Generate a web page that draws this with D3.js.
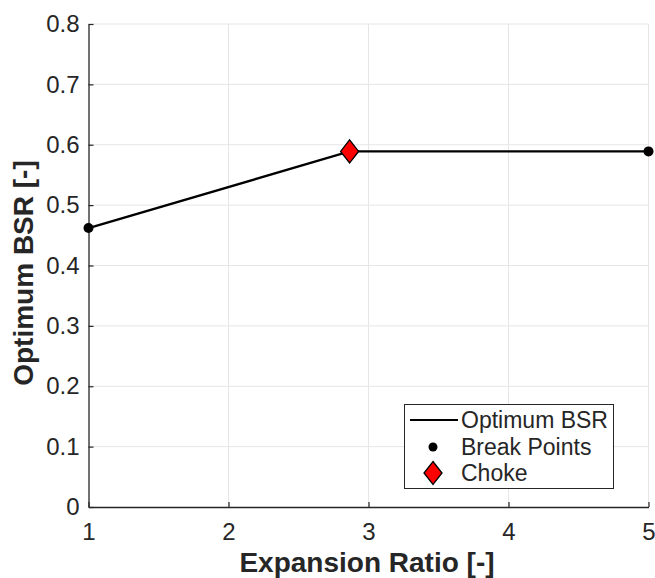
<!DOCTYPE html>
<html><head><meta charset="utf-8">
<script src="https://cdn.jsdelivr.net/npm/d3@7"></script>
<style>body{margin:0;background:#fff}svg{display:block}text{font-family:"Liberation Sans",Arial,sans-serif}</style>
</head><body>
<script>
const lineX = [1, 2.865, 5];
const lineY = [0.462, 0.589, 0.589];
const breakX = [1, 5];
const breakY = [0.462, 0.589];
const chokeX = [2.865];
const chokeY = [0.589];
const xTicks = [1, 2, 3, 4, 5];
const yTicks = [0, 0.1, 0.2, 0.3, 0.4, 0.5, 0.6, 0.7, 0.8];
const legendLabels = ["Optimum BSR", "Break Points", "Choke"];

const W = 655, H = 578;
const m = {left: 88.5, right: 6.5, top: 24, bottom: 71};
const svg = d3.select("body").append("svg").attr("width", W).attr("height", H);
const x = d3.scaleLinear().domain([1, 5]).range([m.left, W - m.right]);
const y = d3.scaleLinear().domain([0, 0.8]).range([H - m.bottom, m.top]);
const ink = "#262626";

// grid
svg.append("g").selectAll("line").data(xTicks.slice(1)).join("line")
  .attr("x1", d => x(d)).attr("x2", d => x(d)).attr("y1", y(0)).attr("y2", y(0.8))
  .attr("stroke", "#e6e6e6").attr("stroke-width", 1);
svg.append("g").selectAll("line").data(yTicks.slice(1)).join("line")
  .attr("x1", x(1)).attr("x2", x(5)).attr("y1", d => y(d)).attr("y2", d => y(d))
  .attr("stroke", "#e6e6e6").attr("stroke-width", 1);

// axes
const xa = svg.append("g").attr("transform", `translate(0,${y(0)})`)
  .call(d3.axisBottom(x).tickValues(xTicks).tickSize(-5).tickPadding(16).tickSizeOuter(0).tickFormat(d3.format("d")));
const ya = svg.append("g").attr("transform", `translate(${x(1)},0)`)
  .call(d3.axisLeft(y).tickValues(yTicks).tickSize(-5).tickPadding(9).tickSizeOuter(0).tickFormat(d => d === 0 ? "0" : d3.format(".1f")(d)));
[xa, ya].forEach(a => {
  a.select(".domain").attr("stroke", ink).attr("stroke-width", 1.3);
  a.selectAll(".tick line").attr("stroke", ink).attr("stroke-width", 1.2);
  a.selectAll("text").attr("fill", ink).style("font-size", "24px");
});

// titles
svg.append("text").attr("x", 367).attr("y", 572).attr("text-anchor", "middle")
  .attr("fill", ink).style("font-size", "28px").style("font-weight", "bold").text("Expansion Ratio [-]");
svg.append("text").attr("transform", `translate(33,273) rotate(-90)`).attr("text-anchor", "middle")
  .attr("fill", ink).style("font-size", "28px").style("font-weight", "bold").text("Optimum BSR [-]");

// line
const pts = lineX.map((d, i) => [d, lineY[i]]);
svg.append("path").datum(pts).attr("fill", "none").attr("stroke", "#000").attr("stroke-width", 2.4)
  .attr("d", d3.line().x(d => x(d[0])).y(d => y(d[1])));

// break points
svg.append("g").selectAll("circle").data(breakX.map((d, i) => [d, breakY[i]])).join("circle")
  .attr("cx", d => x(d[0])).attr("cy", d => y(d[1])).attr("r", 5).attr("fill", "#000");

// choke
const diamond = (cx, cy, w, h) => `M${cx},${cy - h}L${cx + w},${cy}L${cx},${cy + h}L${cx - w},${cy}Z`;
svg.append("g").selectAll("path").data(chokeX.map((d, i) => [d, chokeY[i]])).join("path")
  .attr("d", d => diamond(x(d[0]), y(d[1]), 9, 11.5)).attr("fill", "#ff0000").attr("stroke", "#000").attr("stroke-width", 1.3);

// legend
const lg = svg.append("g");
lg.append("rect").attr("x", 404.5).attr("y", 404.5).attr("width", 209).attr("height", 84)
  .attr("fill", "#fff").attr("stroke", ink).attr("stroke-width", 1);
const rowY = [420, 447, 473];
lg.append("line").attr("x1", 410).attr("x2", 458).attr("y1", rowY[0]).attr("y2", rowY[0]).attr("stroke", "#000").attr("stroke-width", 2);
lg.append("circle").attr("cx", 433).attr("cy", rowY[1]).attr("r", 4.5).attr("fill", "#000");
lg.append("path").attr("d", diamond(433, rowY[2], 9, 11.5)).attr("fill", "#ff0000").attr("stroke", "#000").attr("stroke-width", 1.3);
lg.selectAll("text.l").data(legendLabels).join("text").attr("class", "l")
  .attr("x", 461).attr("y", (d, i) => rowY[i] + 7.5).attr("fill", ink).style("font-size", "23px").text(d => d);
</script>
</body></html>
